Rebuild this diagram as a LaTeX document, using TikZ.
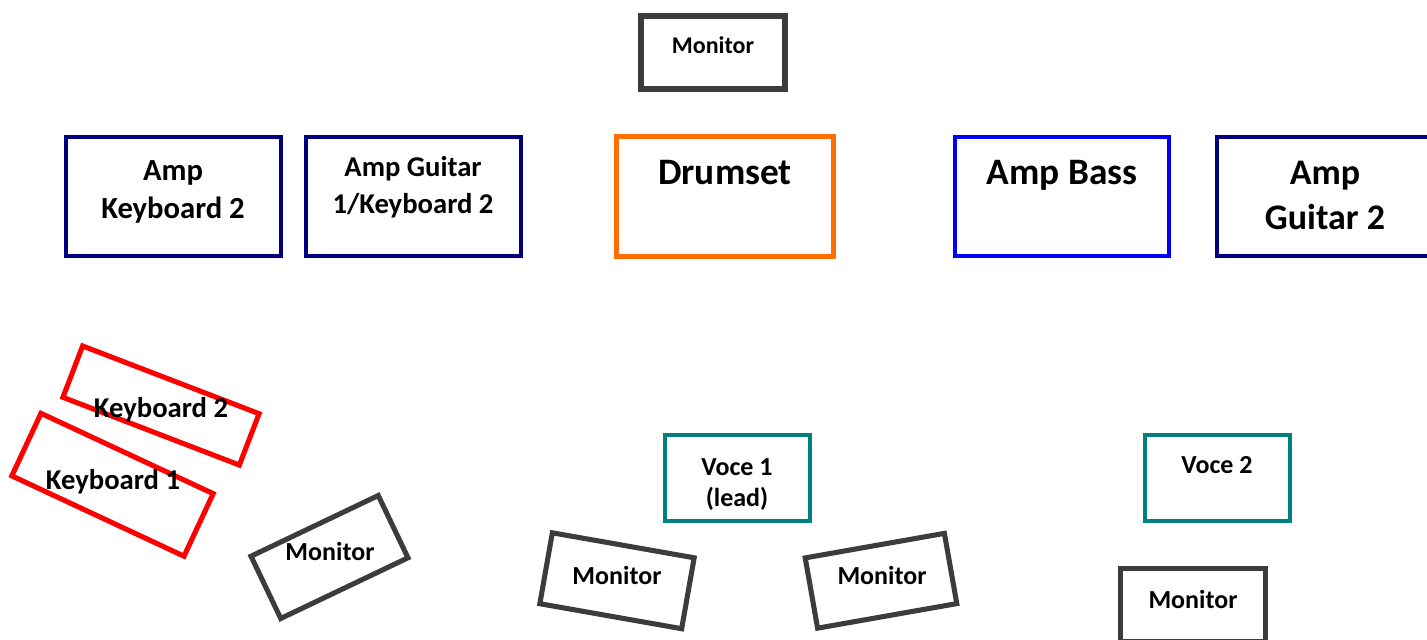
\documentclass[tikz,border=0pt]{standalone}
\usepackage{fontspec}
\setmainfont{Carlito}
\definecolor{navyc}{RGB}{0,0,128}
\definecolor{bluec}{RGB}{0,0,250}
\definecolor{orangec}{RGB}{255,110,0}
\definecolor{redc}{RGB}{255,0,0}
\definecolor{tealc}{RGB}{0,128,128}
\definecolor{grayc}{RGB}{60,60,60}
\tikzset{
  boxbase/.style={draw, rectangle, inner sep=0pt, outer sep=0pt, line width=3.8pt},
  navybox/.style={boxbase, draw=navyc, line width=3.5pt},
  bluebox/.style={boxbase, draw=bluec, line width=3.5pt},
  drumbox/.style={boxbase, draw=orangec},
  kbbox/.style={boxbase, draw=redc},
  voicebox/.style={boxbase, draw=tealc, line width=3.5pt},
  monbox/.style={boxbase, draw=grayc},
  lbl/.style={inner sep=0pt, align=center, font=\bfseries},
}
\begin{document}
\begin{tikzpicture}[x=0.75pt, y=-0.75pt]
\useasboundingbox (0,0) rectangle (1427,639);
\clip (0,0) rectangle (1427,639);
% top monitor
\node[monbox, minimum width=108pt, minimum height=54.75pt] (montop) at (713,52.5) {};
\node[lbl, font=\bfseries\fontsize{18}{21}\selectfont] (montopt) at (713,45) {Monitor};
% amps
\node[navybox, minimum width=161.25pt, minimum height=89.25pt] (ampk2) at (173.5,196.5) {};
\node[lbl, font=\bfseries\fontsize{23}{28.5}\selectfont] (ampk2t) at (173,192) {Amp\\Keyboard 2};
\node[navybox, minimum width=161.25pt, minimum height=89.25pt] (ampg1) at (413.5,196.5) {};
\node[lbl, font=\bfseries\fontsize{21.5}{27.75}\selectfont] (ampg1t) at (413,187.5) {Amp Guitar\\1/Keyboard 2};
\node[drumbox, minimum width=162.75pt, minimum height=90pt] (drum) at (725,196.5) {};
\node[lbl, font=\bfseries\fontsize{28}{33}\selectfont] (drumt) at (725,173) {Drumset};
\node[bluebox, minimum width=160.5pt, minimum height=89.25pt] (ampbass) at (1062,196.5) {};
\node[lbl, font=\bfseries\fontsize{28}{33}\selectfont] (ampbasst) at (1062,175) {Amp Bass};
\node[navybox, minimum width=163.5pt, minimum height=89.25pt] (ampg2) at (1326,196.5) {};
\node[lbl, font=\bfseries\fontsize{27}{33.75}\selectfont] (ampg2t) at (1325,195.5) {Amp\\Guitar 2};
% keyboards
\node[kbbox, rotate=-21, minimum width=141.75pt, minimum height=41.25pt] (kb2) at (161,405.5) {};
\node[lbl, font=\bfseries\fontsize{21.5}{26}\selectfont] (kb2t) at (161,410) {Keyboard 2};
\node[kbbox, rotate=-25, minimum width=142.5pt, minimum height=51.75pt] (kb1) at (112.5,484.75) {};
\node[lbl, font=\bfseries\fontsize{21.5}{26}\selectfont] (kb1t) at (113,482) {Keyboard 1};
% left monitor
\node[monbox, rotate=25.5, minimum width=105.75pt, minimum height=51.75pt] (monl) at (329.5,557) {};
\node[lbl, font=\bfseries\fontsize{19.5}{23}\selectfont] (monlt) at (330,551) {Monitor};
% voices
\node[voicebox, minimum width=108.75pt, minimum height=64.5pt] (voce1) at (737.5,478) {};
\node[lbl, font=\bfseries\fontsize{19.5}{23.25}\selectfont] (voce1t) at (737,484.5) {Voce 1\\(lead)};
\node[voicebox, minimum width=108.75pt, minimum height=64.5pt] (voce2) at (1217.5,478) {};
\node[lbl, font=\bfseries\fontsize{19.5}{23}\selectfont] (voce2t) at (1217,465) {Voce 2};
% bottom monitors
\node[monbox, rotate=-10, minimum width=108pt, minimum height=54pt] (monm1) at (617,580.75) {};
\node[lbl, font=\bfseries\fontsize{19.5}{23}\selectfont] (monm1t) at (617,575) {Monitor};
\node[monbox, rotate=10, minimum width=106pt, minimum height=53.5pt] (monm2) at (881,580.75) {};
\node[lbl, font=\bfseries\fontsize{19.5}{23}\selectfont] (monm2t) at (882,575) {Monitor};
\node[monbox, minimum width=108.75pt, minimum height=54.75pt] (monbr) at (1193,605) {};
\node[lbl, font=\bfseries\fontsize{19.5}{23}\selectfont] (monbrt) at (1193,599) {Monitor};
\end{tikzpicture}
\end{document}
